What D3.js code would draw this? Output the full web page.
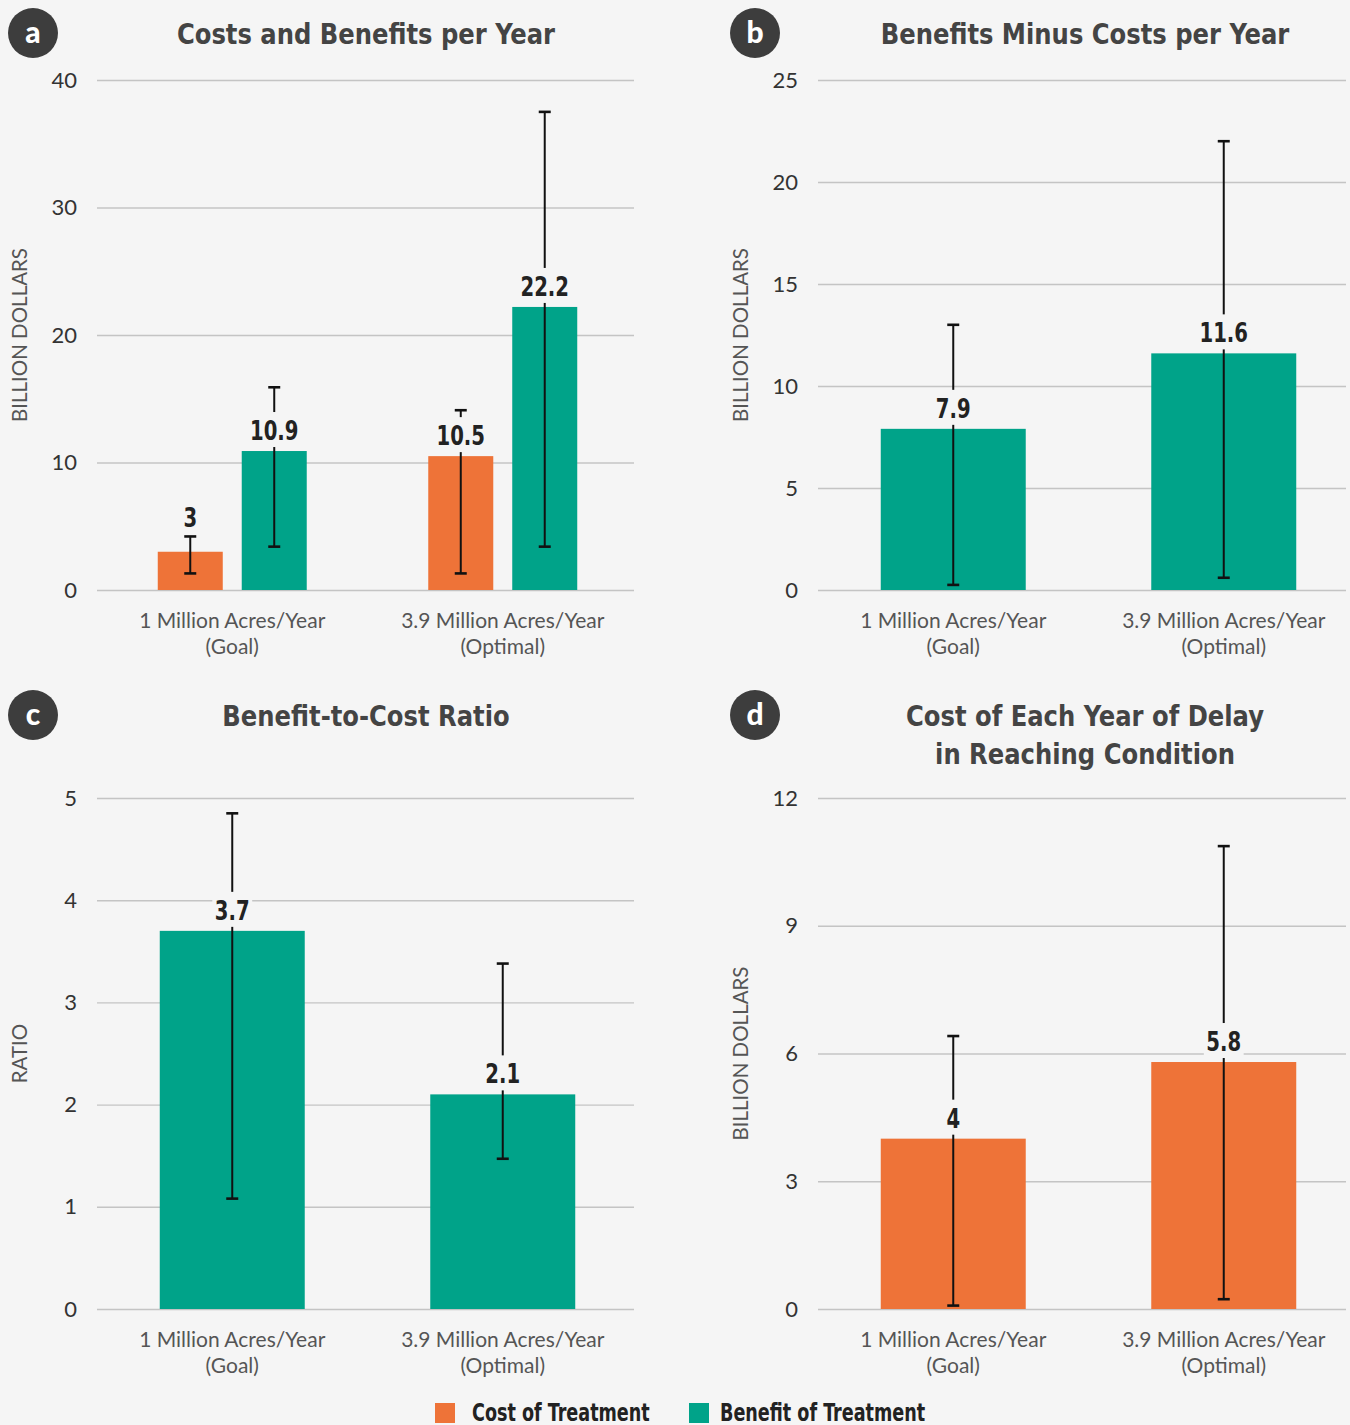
<!DOCTYPE html>
<html>
<head>
<meta charset="utf-8">
<script src="https://cdn.jsdelivr.net/npm/d3@7"></script>
<style>
  html, body { margin: 0; padding: 0; background: #f5f5f5; }
  svg { display: block; }
  .title { font-family: "DejaVu Sans Condensed", "DejaVu Sans", sans-serif; font-weight: bold; fill: #444; }
  .tick-label { font-family: Lato, "Noto Sans", sans-serif; fill: #333; }
  .cat-label { font-family: Lato, "Noto Sans", sans-serif; fill: #555; }
  .axis-title { font-family: Lato, "Noto Sans", sans-serif; fill: #555; }
  .value-label { font-family: "DejaVu Sans Condensed", "DejaVu Sans", sans-serif; font-weight: bold; fill: #222; }
  .legend-label { font-family: "DejaVu Sans Condensed", "DejaVu Sans", sans-serif; font-weight: bold; fill: #222; }
</style>
</head>
<body>
<svg id="chart" width="1350" height="1425"></svg>
<script>
// ---- data ----
const categories = ["1 Million Acres/Year|(Goal)", "3.9 Million Acres/Year|(Optimal)"];
const seriesNames = ["Cost of Treatment", "Benefit of Treatment"];
const seriesColors = ["#ee7338", "#00a389"];

// a: costs and benefits per year (billion dollars)
const costPerYear = [3, 10.5];
const costPerYearLow = [1.3, 1.3];
const costPerYearHigh = [4.2, 14.1];
const benefitPerYear = [10.9, 22.2];
const benefitPerYearLow = [3.4, 3.4];
const benefitPerYearHigh = [15.9, 37.5];

// b: benefits minus costs per year (billion dollars)
const netBenefit = [7.9, 11.6];
const netBenefitLow = [0.25, 0.6];
const netBenefitHigh = [13.0, 22.0];

// c: benefit-to-cost ratio
const ratio = [3.7, 2.1];
const ratioLow = [1.08, 1.47];
const ratioHigh = [4.85, 3.38];

// d: cost of each year of delay (billion dollars)
const delayCost = [4, 5.8];
const delayCostLow = [0.08, 0.23];
const delayCostHigh = [6.41, 10.87];

// tick values
const ticksA = [0, 10, 20, 30, 40];
const ticksB = [0, 5, 10, 15, 20, 25];
const ticksC = [0, 1, 2, 3, 4, 5];
const ticksD = [0, 3, 6, 9, 12];

const BG = "#f5f5f5";
const svg = d3.select("#chart");
svg.append("rect").attr("width", 1350).attr("height", 1425).attr("fill", BG);

// condensed bold text: horizontally squeezed around its anchor point
function squeezed(parent, x, y, text, cls, size, sx, anchor) {
  const g = parent.append("g").attr("transform", `translate(${x},${y}) scale(${sx},1)`);
  const t = g.append("text").attr("class", cls).attr("font-size", size)
    .attr("text-anchor", anchor || "middle").text(text);
  return { g, t };
}

function panel(opts) {
  const g = svg.append("g");
  const { x0, gridEnd, yTop, yBottom, domain, ticks, series, letter, titleLines, titleX, titleY, axisTitle } = opts;
  const step = 270.5;

  const y = d3.scaleLinear().domain(domain).range([yBottom, yTop]);
  const x = d3.scaleBand().domain(categories).range([x0, x0 + 2 * step]).paddingInner(0.464).paddingOuter(0.232);
  const bw0 = x.bandwidth();
  const xs = d3.scaleBand().domain(series.map((s, i) => i))
    .range(series.length > 1 ? [-2, bw0 + 2] : [0, bw0])
    .paddingInner(series.length > 1 ? 0.226 : 0);

  // gridlines + tick labels via d3 axis
  const axis = d3.axisLeft(y).tickValues(ticks).tickSize(-(gridEnd - x0)).tickPadding(20).tickFormat(d3.format("d"));
  const ag = g.append("g").attr("transform", `translate(${x0},0)`).call(axis);
  ag.select(".domain").remove();
  ag.selectAll(".tick line").attr("stroke", "#c4c4c4").attr("stroke-width", 1.4);
  ag.selectAll(".tick text").attr("class", "tick-label").attr("font-size", 22).attr("fill", "#333")
    .attr("font-family", "Lato, 'Noto Sans', sans-serif");

  // axis title
  if (axisTitle) {
    g.append("text").attr("class", "axis-title")
      .attr("transform", `translate(${x0 - 70},${(yTop + yBottom) / 2}) rotate(-90)`)
      .attr("text-anchor", "middle").attr("font-size", 20.5)
      .text(axisTitle);
  }

  // category labels
  categories.forEach(c => {
    const lines = c.split("|");
    const cx = x(c) + x.bandwidth() / 2;
    const t = g.append("text").attr("class", "cat-label").attr("text-anchor", "middle").attr("font-size", 21)
      .attr("x", cx).attr("y", yBottom + 38);
    lines.forEach((l, i) => t.append("tspan").attr("x", cx).attr("dy", i === 0 ? 0 : 26).text(l));
  });

  // bars, error bars, labels
  const labels = [];
  series.forEach((s, si) => {
    categories.forEach((c, ci) => {
      const bx = x(c) + xs(si);
      const bw = xs.bandwidth();
      const v = s.values[ci];
      g.append("rect").attr("x", bx).attr("y", y(v)).attr("width", bw).attr("height", y(0) - y(v)).attr("fill", s.color);
      const cx = bx + bw / 2;
      const lo = y(s.low[ci]), hi = y(s.high[ci]);
      const eg = g.append("g").attr("stroke", "#111");
      eg.append("line").attr("x1", cx).attr("x2", cx).attr("y1", lo).attr("y2", hi).attr("stroke-width", 2);
      eg.append("line").attr("x1", cx - 6).attr("x2", cx + 6).attr("y1", lo).attr("y2", lo).attr("stroke-width", 2.6);
      eg.append("line").attr("x1", cx - 6).attr("x2", cx + 6).attr("y1", hi).attr("y2", hi).attr("stroke-width", 2.6);
      const top = y(v);
      let ly = top - 11;
      if (top - hi < 25) ly = hi - 9;
      labels.push({ x: cx, y: ly, text: String(v) });
    });
  });
  labels.forEach(l => {
    const { g: lg, t } = squeezed(g, l.x, l.y, l.text, "value-label", 26, 0.84);
    const bb = t.node().getBBox();
    lg.insert("rect", () => t.node()).attr("x", bb.x - 3).attr("y", -28).attr("width", bb.width + 6).attr("height", 35).attr("fill", BG);
  });

  // panel badge
  g.append("circle").attr("cx", opts.badgeX).attr("cy", opts.badgeY).attr("r", 25).attr("fill", "#3d3d3d");
  g.append("text").attr("x", opts.badgeX).attr("y", opts.badgeY + 10).attr("text-anchor", "middle")
    .attr("font-family", "Lato, 'Noto Sans', sans-serif").attr("font-weight", "900").attr("font-size", 30).attr("fill", "#fff")
    .text(letter);

  // title
  titleLines.forEach((l, i) => squeezed(g, titleX, titleY + i * 38, l, "title", 29, 0.93));
}

panel({
  x0: 97, gridEnd: 634, yTop: 80, yBottom: 590, domain: [0, 40], ticks: ticksA,
  series: [
    { values: costPerYear, low: costPerYearLow, high: costPerYearHigh, color: seriesColors[0] },
    { values: benefitPerYear, low: benefitPerYearLow, high: benefitPerYearHigh, color: seriesColors[1] }
  ],
  letter: "a", badgeX: 33, badgeY: 33, titleLines: ["Costs and Benefits per Year"], titleX: 366, titleY: 44,
  axisTitle: "BILLION DOLLARS"
});

panel({
  x0: 818, gridEnd: 1346, yTop: 80, yBottom: 590, domain: [0, 25], ticks: ticksB,
  series: [{ values: netBenefit, low: netBenefitLow, high: netBenefitHigh, color: seriesColors[1] }],
  letter: "b", badgeX: 755, badgeY: 33, titleLines: ["Benefits Minus Costs per Year"], titleX: 1085, titleY: 44,
  axisTitle: "BILLION DOLLARS"
});

panel({
  x0: 97, gridEnd: 634, yTop: 798, yBottom: 1309, domain: [0, 5], ticks: ticksC,
  series: [{ values: ratio, low: ratioLow, high: ratioHigh, color: seriesColors[1] }],
  letter: "c", badgeX: 33, badgeY: 715, titleLines: ["Benefit-to-Cost Ratio"], titleX: 366, titleY: 726,
  axisTitle: "RATIO"
});

panel({
  x0: 818, gridEnd: 1346, yTop: 798, yBottom: 1309, domain: [0, 12], ticks: ticksD,
  series: [{ values: delayCost, low: delayCostLow, high: delayCostHigh, color: seriesColors[0] }],
  letter: "d", badgeX: 755, badgeY: 715, titleLines: ["Cost of Each Year of Delay", "in Reaching Condition"], titleX: 1085, titleY: 726,
  axisTitle: "BILLION DOLLARS"
});

// legend
const legend = svg.append("g");
const legendX = [435, 689];
seriesNames.forEach((n, i) => {
  legend.append("rect").attr("x", legendX[i]).attr("y", 1403).attr("width", 20).attr("height", 20).attr("fill", seriesColors[i]);
  squeezed(legend, legendX[i] + (i === 0 ? 37 : 31), 1421, n, "legend-label", 24, 0.815, "start");
});
</script>
</body>
</html>
